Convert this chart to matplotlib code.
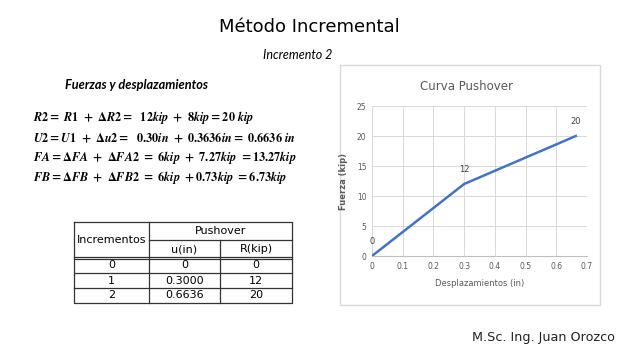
import matplotlib
matplotlib.use("Agg")
import matplotlib.pyplot as plt
from matplotlib.patches import Rectangle

plt.rcParams["mathtext.fontset"] = "custom"
plt.rcParams["mathtext.it"] = "STIXGeneral:italic:bold"
plt.rcParams["mathtext.rm"] = "STIXGeneral:bold"

# chart data
u_in = [0, 0.3000, 0.6636]
r_kip = [0, 12, 20]

# table data
incrementos = ["0", "1", "2"]
u_txt = ["0", "0.3000", "0.6636"]
r_txt = ["0", "12", "20"]

ecuaciones = [
    r"$R2 =\ R1\ +\ \Delta R2 =\ \ 12kip\ +\ 8kip = 20\ kip$",
    r"$U2 = U1\ +\ \Delta u2 =\ \ 0.30in\ +\ 0.3636in =\ 0.6636\ in$",
    r"$FA = \Delta FA\ +\ \Delta FA2\ =\ 6kip\ +\ 7.27kip\ = 13.27kip$",
    r"$FB = \Delta FB\ +\ \Delta FB2\ =\ 6kip\ + 0.73kip\ = 6.73kip$",
]

fig = plt.figure(figsize=(6.4, 3.6), dpi=100)
fig.patch.set_facecolor("white")

# pixel-coordinate overlay for slide texts
bg = fig.add_axes([0, 0, 1, 1])
bg.set_xlim(0, 640)
bg.set_ylim(360, 0)
bg.axis("off")

bg.text(309, 27, "Método Incremental", fontsize=13, ha="center", va="center", color="black")
bg.text(298, 55, "Incremento 2", fontsize=9, family="Lato", style="italic",
        ha="center", va="center")
bg.text(65, 85, "Fuerzas y desplazamientos", fontsize=9.2, family="Lato", style="italic",
        fontweight="bold", ha="left", va="center")

for i, eq in enumerate(ecuaciones):
    bg.text(33, 118 + i * 20, eq, fontsize=8.8, ha="left", va="center")

bg.text(543, 337, "M.Sc. Ing. Juan Orozco", fontsize=9.2, ha="center", va="center", color="#222222")

# table
x0, x1, x2, x3 = 74, 149, 220, 292
ytop, ymid, yhead = 222, 240, 258
row_h = 15
lw = 0.9
n = len(incrementos)
ybot = yhead + n * row_h
bg.plot([x0, x3, x3, x0, x0], [ytop, ytop, ybot, ybot, ytop], color="#333333", lw=lw)
bg.plot([x1, x1], [ytop, ybot], color="#333333", lw=lw)
bg.plot([x2, x2], [ymid, ybot], color="#333333", lw=lw)
bg.plot([x1, x3], [ymid, ymid], color="#333333", lw=lw)
bg.plot([x0, x3], [yhead - 1, yhead - 1], color="#333333", lw=lw)
bg.plot([x0, x3], [yhead + 1, yhead + 1], color="#333333", lw=lw)
for k in range(1, n):
    y = yhead + k * row_h
    bg.plot([x0, x3], [y, y], color="#333333", lw=lw)
bg.text((x0 + x1) / 2, (ytop + yhead) / 2, "Incrementos", fontsize=8, ha="center", va="center")
bg.text((x1 + x3) / 2, (ytop + ymid) / 2, "Pushover", fontsize=8, ha="center", va="center")
bg.text((x1 + x2) / 2, (ymid + yhead) / 2, "u(in)", fontsize=8, ha="center", va="center")
bg.text((x2 + x3) / 2, (ymid + yhead) / 2, "R(kip)", fontsize=8, ha="center", va="center")
for k in range(n):
    yc = yhead + k * row_h + row_h / 2
    bg.text((x0 + x1) / 2, yc, incrementos[k], fontsize=8, ha="center", va="center")
    bg.text((x1 + x2) / 2, yc, u_txt[k], fontsize=8, ha="center", va="center")
    bg.text((x2 + x3) / 2, yc, r_txt[k], fontsize=8, ha="center", va="center")

# chart frame
bg.add_patch(Rectangle((340, 65), 260, 240, fill=False, edgecolor="#d9d9d9", lw=1))
bg.text(466, 86, "Curva Pushover", fontsize=8.5, color="#595959", ha="center", va="center")

ax = fig.add_axes([372 / 640, 1 - 256 / 360, 215 / 640, 150 / 360])
ax.plot(u_in, r_kip, color="#4472C4", lw=1.8)
for x, y in zip(u_in, r_kip):
    ax.annotate(str(y), (x, y), xytext=(0, 7), textcoords="offset points",
                ha="center", va="bottom", fontsize=6, color="#404040")
ax.set_xlim(0, 0.7)
ax.set_ylim(0, 25)
ax.set_xticks([0, 0.1, 0.2, 0.3, 0.4, 0.5, 0.6, 0.7])
ax.set_xticklabels(["0", "0.1", "0.2", "0.3", "0.4", "0.5", "0.6", "0.7"])
ax.set_yticks([0, 5, 10, 15, 20, 25])
ax.grid(True, color="#d9d9d9", lw=0.7)
ax.set_axisbelow(True)
for s in ax.spines.values():
    s.set_visible(False)
ax.spines["bottom"].set_visible(True)
ax.spines["bottom"].set_color("#bfbfbf")
ax.tick_params(length=0, labelsize=5.5, colors="#595959", pad=4)
ax.set_xlabel("Desplazamientos (in)", fontsize=6, color="#595959", labelpad=6)
ax.set_ylabel("Fuerza (kip)", fontsize=6, color="#595959", fontweight="bold", labelpad=6)

fig.savefig("out.png", dpi=100)
